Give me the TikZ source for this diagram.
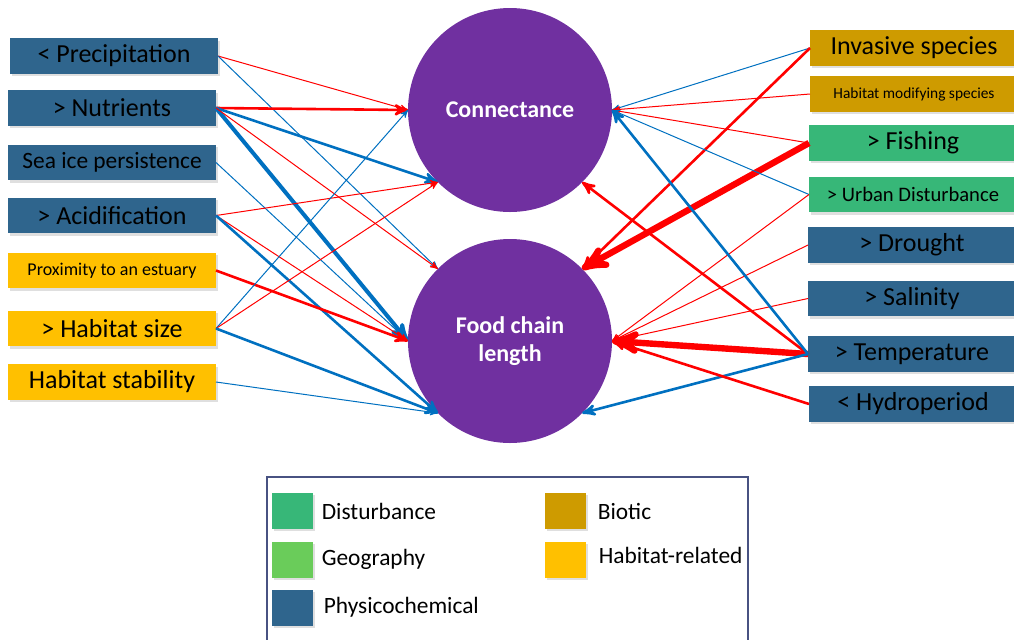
\documentclass[tikz,border=0pt]{standalone}
\usepackage{fontspec}
\setmainfont{Carlito}
\usetikzlibrary{arrows,shadows,positioning}

\definecolor{physblue}{RGB}{47,101,141}
\definecolor{distgreen}{RGB}{55,183,120}
\definecolor{geogreen}{RGB}{106,204,90}
\definecolor{bioticgold}{RGB}{206,155,0}
\definecolor{habyellow}{RGB}{255,192,0}
\definecolor{webpurple}{RGB}{112,48,160}
\definecolor{arrred}{RGB}{255,0,0}
\definecolor{arrblue}{RGB}{0,112,192}
\definecolor{legframe}{RGB}{72,82,130}

\begin{document}
\begin{tikzpicture}
[x=0.5pt,y=-0.5pt,->,>=stealth',
 driver/.style={rectangle,inner sep=0pt,outer sep=0pt,minimum width=104pt,minimum height=17.8pt,text=black,
   drop shadow={shadow xshift=1.2pt,shadow yshift=-1.2pt,opacity=0.25}},
 phys/.style={driver,fill=physblue},
 dist/.style={driver,fill=distgreen},
 biotic/.style={driver,fill=bioticgold},
 habitat/.style={driver,fill=habyellow},
 big/.style={font=\fontsize{13}{15}\selectfont},
 web/.style={circle,fill=webpurple,minimum size=102pt,inner sep=0pt,outer sep=0pt,text=white,
   align=center,font=\bfseries\fontsize{12}{14}\selectfont},
 swatch/.style={rectangle,inner sep=0pt,minimum width=20.5pt,minimum height=18pt,
   drop shadow={shadow xshift=1pt,shadow yshift=-1pt,opacity=0.25}},
 legtext/.style={inner sep=0pt,anchor=west,font=\fontsize{11.7}{14}\selectfont},
 rthin/.style={draw=arrred,line width=0.5pt},
 rmid/.style={draw=arrred,line width=1.3pt},
 rbold/.style={draw=arrred,line width=3.2pt},
 bthin/.style={draw=arrblue,line width=0.5pt},
 bmid/.style={draw=arrblue,line width=1.3pt},
 bbold/.style={draw=arrblue,line width=2pt}]

  \clip (0,0) rectangle (1014,639);

  % response variables
  \node[web] (conn) at (510,110) {Connectance};
  \node[web] (fcl)  at (510,341) {Food chain\\length};

  % drivers on the left
  \node[phys,big]    (prec)   at (114,56)    {< Precipitation};
  \node[phys,big]    (nutr)   at (112,108)   {> Nutrients};
  \node[phys,font=\fontsize{11.7}{14}\selectfont] (seaice) at (112,162.5) {Sea ice persistence};
  \node[phys,big]    (acid)   at (112,215.5) {> Acidification};
  \node[habitat,font=\fontsize{9}{11}\selectfont] (prox) at (112,270.5) {Proximity to an estuary};
  \node[habitat,big] (hsize)  at (112,328.5) {> Habitat size};
  \node[habitat,big] (hstab)  at (112,382)   {Habitat stability};

  % drivers on the right
  \node[biotic,big]  (invas)  at (914,48)    {Invasive species};
  \node[biotic,font=\fontsize{7.7}{9}\selectfont] (hmod) at (914,94) {Habitat modifying species};
  \node[dist,big]    (fish)   at (913,143)   {> Fishing};
  \node[dist,font=\fontsize{10.3}{12}\selectfont] (urban) at (913,194.5) {> Urban Disturbance};
  \node[phys,big]    (drought) at (912,245)  {> Drought};
  \node[phys,big]    (salin)  at (912,298.5) {> Salinity};
  \node[phys,big]    (temp)   at (912,354)   {> Temperature};
  \node[phys,big]    (hydro)  at (913,404)   {< Hydroperiod};

  \path (prec.east)   edge[rthin] (conn.west)
                      edge[bthin] (fcl.north west)
        (nutr.east)   edge[rmid]  (conn.west)
                      edge[bmid]  (conn.south west)
                      edge[bbold] (fcl.west)
                      edge[rthin] (fcl.north west)
        (seaice.east) edge[bthin] (fcl.west)
        (acid.east)   edge[rthin] (conn.south west)
                      edge[rthin] (fcl.west)
                      edge[bmid]  (fcl.south west)
        (prox.east)   edge[rmid]  (fcl.west)
        (hsize.east)  edge[bthin] (conn.west)
                      edge[rthin] (conn.south west)
                      edge[bmid]  (fcl.south west)
        (hstab.east)  edge[bthin] (fcl.south west);

  \path (invas.west)  edge[bthin] (conn.east)
                      edge[rmid]  (fcl.north east)
        (hmod.west)   edge[rthin] (conn.east)
        (fish.west)   edge[rthin] (conn.east)
                      edge[rbold] (fcl.north east)
        (urban.west)  edge[bthin] (conn.east)
                      edge[rthin] (fcl.east)
        (drought.west) edge[rthin] (fcl.east)
        (salin.west)  edge[rthin] (fcl.east)
        (temp.west)   edge[rbold] (fcl.east)
                      edge[rmid]  (conn.south east)
                      edge[bmid]  (conn.east)
                      edge[bmid]  (fcl.south east)
        (hydro.west)  edge[rmid]  (fcl.east);

  % legend
  \draw[-,draw=legframe,line width=0.7pt] (267,477) rectangle (748,670);
  \node[swatch,fill=distgreen]  (sdist) at (292.5,511)   {};
  \node[swatch,fill=geogreen]   (sgeo)  at (292.5,559.5) {};
  \node[swatch,fill=physblue]   (sphys) at (292.5,607.5) {};
  \node[swatch,fill=bioticgold] (sbio)  at (565.5,511)   {};
  \node[swatch,fill=habyellow]  (shab)  at (565.5,559.5) {};
  \node[legtext] (ldist) [right=4pt of sdist]  {Disturbance};
  \node[legtext] (lgeo)  [right=4pt of sgeo]   {Geography};
  \node[legtext] (lphys) [right=5pt of sphys]  {Physicochemical};
  \node[legtext] (lbio)  [right=5.5pt of sbio] {Biotic};
  \node[legtext] (lhab)  [right=6pt of shab,yshift=2pt] {Habitat-related};
\end{tikzpicture}
\end{document}
